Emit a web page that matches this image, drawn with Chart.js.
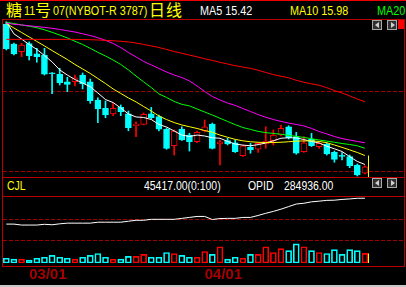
<!DOCTYPE html>
<html>
<head>
<meta charset="utf-8">
<script src="https://cdn.jsdelivr.net/npm/chart.js@4.4.1/dist/chart.umd.min.js"></script>
<style>
  html, body { margin: 0; padding: 0; background: #000; }
  body { position: relative; width: 406px; height: 287px; overflow: hidden; }
  .ln { position: absolute; background: #b80000; }
  .cj { position: absolute; font: 16px/16px "Noto Sans CJK SC", sans-serif; color: #ffff00; white-space: nowrap; }
  .la { position: absolute; font: 12.5px/14px "Liberation Sans", Arial, sans-serif; white-space: nowrap;
        transform: scaleX(0.865); transform-origin: 0 0; }
  .sm { position: absolute; font: 12px/14px "Liberation Sans", Arial, sans-serif; white-space: nowrap; color: #fff;
        transform: scaleX(0.87); transform-origin: 0 0; }
  .btn { position: absolute; width: 8px; height: 8px; border: 1px solid #a8a8a8; background: #303030; }
  .btn.l::after, .btn.r::after { content: ""; position: absolute; top: 1px; border: 3px solid transparent; }
  .btn.l::after { left: -1px; border-right: 4px solid #d0d0d0; }
  .btn.r::after { left: 3px; border-left: 4px solid #d0d0d0; }
  canvas { position: absolute; }
</style>
</head>
<body>
<!-- frame -->
<div class="ln" style="left:0;top:0;width:406px;height:1px;background:#f00000"></div>
<div class="ln" style="left:2px;top:19px;width:403px;height:1px"></div>
<div class="ln" style="left:2px;top:177px;width:403px;height:1px"></div>
<div class="ln" style="left:2px;top:196px;width:403px;height:1px"></div>
<div class="ln" style="left:2px;top:266px;width:403px;height:1px"></div>
<div class="ln" style="left:2px;top:19px;width:1px;height:248px"></div>
<div class="ln" style="left:404px;top:19px;width:1px;height:248px"></div>
<div class="ln" style="left:0;top:285px;width:406px;height:2px;background:#c8c8c8"></div>

<!-- title row -->
<div id="title">
  <div class="cj" style="left:6px;top:1px">糖</div>
  <div class="la" style="left:24px;top:4px;color:#ffff00">11</div>
  <div class="cj" style="left:35px;top:1px">号</div>
  <div class="la" style="left:53px;top:4px;color:#ffff00">07(NYBOT-R 3787)</div>
  <div class="cj" style="left:149px;top:1px">日</div>
  <div class="cj" style="left:166px;top:1px">线</div>
</div>
<div class="la" style="left:200px;top:4px;color:#ffffff">MA5 15.42</div>
<div class="la" style="left:290px;top:4px;color:#ffff00">MA10 15.98</div>
<div class="la" style="left:377px;top:4px;color:#00ff00">MA20 16.43</div>
<div class="btn l" style="left:372px;top:20px"></div>
<div class="btn r" style="left:387px;top:20px"></div>
<div class="ln" style="left:398px;top:20px;width:6px;height:9px;background:#ff0000"></div>

<!-- indicator row -->
<div class="sm" style="left:7px;top:179px;color:#ffff00">CJL</div>
<div class="sm" style="left:144px;top:179px">45417.00(0:100)</div>
<div class="sm" style="left:248px;top:179px">OPID</div>
<div class="sm" style="left:284px;top:179px">284936.00</div>
<div class="btn l" style="left:372px;top:178px"></div>
<div class="btn r" style="left:387px;top:178px"></div>

<canvas id="main" width="401" height="157" style="left:3px;top:20px"></canvas>
<canvas id="ind" width="401" height="90" style="left:3px;top:197px"></canvas>

<script>
// daily candles
const candleOpen  = [24.20,22.95,22.47,22.97,22.33,22.26,21.12,21.06,20.59,20.59,21.01,20.59,19.45,18.93,18.58,18.99,18.58,17.84,17.93,18.58,18.41,17.62,16.59,17.64,17.26,16.84,17.51,17.95,16.70,16.91,16.78,15.97,16.49,16.37,16.70,16.91,17.26,17.78,17.16,16.22,16.99,16.53,16.70,16.18,15.97,15.91,15.39,14.87];
const candleHigh  = [24.33,23.01,22.99,23.08,22.68,22.68,21.17,21.43,20.87,21.01,21.14,20.76,19.58,19.39,19.24,19.14,18.76,18.09,18.64,18.99,18.51,17.70,17.58,17.78,17.37,17.51,18.20,18.01,16.95,17.06,16.95,16.64,16.74,16.79,17.78,17.58,17.89,17.84,17.43,17.16,17.37,16.79,16.76,16.26,16.16,16.01,15.45,15.33];
const candleLow   = [22.58,22.26,22.16,21.95,21.81,21.01,19.84,20.39,19.97,20.33,20.14,19.24,18.03,18.34,18.47,18.47,17.53,17.16,17.89,18.26,17.51,16.37,16.01,16.92,16.26,16.79,17.45,16.39,15.39,16.64,16.17,15.92,16.12,16.18,16.43,16.64,17.20,17.01,16.06,16.17,16.54,16.43,16.01,15.56,15.70,15.22,14.70,14.83];
const candleClose = [22.64,22.33,22.89,22.20,22.16,21.06,21.09,20.53,20.43,20.84,20.45,19.41,18.89,18.51,18.93,18.72,17.72,17.95,18.56,18.34,17.62,16.43,17.51,16.95,16.84,17.43,17.78,16.43,16.84,16.70,16.22,16.58,16.33,16.74,16.89,17.26,17.68,17.09,16.12,16.78,16.59,16.74,16.08,15.74,15.93,15.34,14.76,15.28];

// moving average lines
const ma5  = [24.34,23.58,23.26,22.92,22.61,22.23,21.83,21.33,21.01,20.73,20.51,20.28,19.89,19.48,19.29,18.95,18.58,18.39,18.36,18.23,17.92,17.76,17.51,17.26,17.17,17.26,17.20,17.09,17.06,16.86,16.70,16.63,16.59,16.66,16.76,16.90,17.06,17.09,17.08,16.98,16.86,16.76,16.56,16.40,16.23,15.91,15.61,15.42];
const ma10 = [24.23,23.95,23.67,23.39,23.11,22.83,22.54,22.26,21.98,21.67,21.39,21.11,20.79,20.48,20.14,19.86,19.58,19.33,19.04,18.76,18.45,18.23,18.04,17.89,17.78,17.67,17.54,17.43,17.26,17.12,16.99,16.90,16.84,16.81,16.79,16.79,16.81,16.84,16.88,16.89,16.90,16.86,16.78,16.64,16.49,16.33,16.17,15.98];
const ma20 = [24.31,24.23,24.14,24.06,23.97,23.84,23.68,23.51,23.33,23.12,22.92,22.68,22.43,22.20,21.95,21.67,21.33,20.95,20.58,20.23,19.83,19.61,19.36,19.18,19.08,18.89,18.70,18.51,18.31,18.11,17.91,17.73,17.61,17.49,17.41,17.36,17.31,17.24,17.18,17.11,17.03,16.95,16.88,16.81,16.73,16.67,16.59,16.43];
const ma30 = [24.26,24.18,24.14,24.09,24.04,23.99,23.93,23.86,23.78,23.70,23.59,23.48,23.34,23.18,22.98,22.73,22.42,22.14,21.86,21.64,21.42,21.20,21.01,20.86,20.64,20.33,19.98,19.67,19.45,19.26,19.11,18.92,18.73,18.54,18.37,18.23,18.11,18.01,17.92,17.83,17.67,17.48,17.33,17.17,17.04,16.95,16.86,16.78];
const ma60 = [23.24,23.24,23.24,23.24,23.24,23.24,23.24,23.24,23.24,23.24,23.23,23.22,23.20,23.18,23.15,23.12,23.08,23.01,22.92,22.83,22.73,22.61,22.48,22.37,22.26,22.15,22.03,21.92,21.81,21.70,21.59,21.51,21.43,21.31,21.17,21.04,20.93,20.84,20.68,20.56,20.46,20.37,20.22,20.04,19.89,19.71,19.51,19.34];

// CJL (volume) and OPID (open interest)
const volume = [22700,18200,18200,13600,22700,27300,36300,27300,22700,18200,27300,36300,45400,27300,18200,18200,31800,31800,40900,27300,27300,50000,45400,36300,27300,27300,54500,40900,77200,18200,27300,22700,40900,40900,77200,50000,68100,59000,90800,77200,59000,50000,45400,63600,40900,63600,59000,45417];
const openInterest = [257900,257900,256900,256900,256900,257700,257200,258200,258900,258900,258900,258900,259900,259900,259900,259900,260900,261900,261900,262900,262900,262900,262900,263900,264900,265900,265900,262700,263700,263900,263900,264900,264900,266900,269200,271200,273500,276200,278900,279700,281200,281900,282700,282900,283700,284200,284900,284936];

// axis ticks
const dateTickIndex = [3, 26];
const dateTickLabels = ['03/01', '04/01'];
const priceGridTicks = [15, 20];
const volumeGridTicks = [104667, 209333];

const idx = candleClose.map((c, i) => i);
const isUp = candleClose.map((c, i) => c > candleOpen[i]);
const candleColor = isUp.map(u => u ? '#ff0000' : '#00ffff');

const xRange = { min: -0.4325, max: 52.12 };

// yellow cursor at the last bar
const cursorLine = {
  id: 'cursorLine',
  afterDatasetsDraw(chart, args, opts) {
    const { ctx, chartArea, scales } = chart;
    const x = Math.round(scales.x.getPixelForValue(idx.length - 1) + 3) + 0.5;
    const y = scales.y.getPixelForValue(opts.from);
    ctx.save();
    ctx.strokeStyle = '#ffff00';
    ctx.lineWidth = 1;
    ctx.beginPath();
    ctx.moveTo(x, y);
    ctx.lineTo(x, chartArea.bottom);
    ctx.stroke();
    ctx.restore();
  }
};

function maLine(values, color) {
  return {
    type: 'line',
    data: idx.map(i => ({ x: i, y: values[i] })),
    borderColor: color,
    borderWidth: 1,
    pointRadius: 0,
    tension: 0,
    order: 0
  };
}

new Chart(document.getElementById('main'), {
  type: 'bar',
  data: {
    datasets: [
      maLine(ma60, '#ff0000'),
      maLine(ma30, '#ff00ff'),
      maLine(ma20, '#00ff00'),
      maLine(ma10, '#ffff00'),
      maLine(ma5, '#ffffff'),
      {
        data: idx.map(i => ({ x: i, y: [candleOpen[i], candleClose[i]] })),
        backgroundColor: isUp.map(u => u ? '#000000' : '#00ffff'),
        borderColor: candleColor,
        borderWidth: 1,
        borderSkipped: false,
        barThickness: 6,
        minBarLength: 1,
        grouped: false,
        order: 1
      },
      {
        data: idx.map(i => ({ x: i, y: [candleLow[i], candleHigh[i]] })),
        backgroundColor: candleColor,
        borderWidth: 0,
        barThickness: 1,
        grouped: false,
        order: 2
      }
    ]
  },
  options: {
    responsive: false,
    animation: false,
    devicePixelRatio: 1,
    events: [],
    layout: { padding: 0 },
    plugins: { legend: { display: false }, tooltip: { enabled: false }, cursorLine: { from: ma10[ma10.length - 1] } },
    scales: {
      x: { type: 'linear', min: xRange.min, max: xRange.max, offset: false, display: false, grid: { offset: false } },
      y: {
        min: 14.6375, max: 24.45,
        ticks: { display: false },
        grid: { color: '#a00000', drawTicks: false, lineWidth: 1 },
        border: { display: false, dash: [4, 2] },
        afterBuildTicks: s => { s.ticks = priceGridTicks.map(v => ({ value: v })); }
      }
    }
  },
  plugins: [cursorLine]
});

new Chart(document.getElementById('ind'), {
  type: 'bar',
  data: {
    datasets: [
      {
        type: 'line',
        data: idx.map(i => ({ x: i, y: openInterest[i] })),
        yAxisID: 'y2',
        borderColor: '#ffffff',
        borderWidth: 1,
        pointRadius: 0,
        tension: 0,
        order: 0
      },
      {
        data: idx.map(i => ({ x: i, y: volume[i] })),
        backgroundColor: 'rgba(0,0,0,0)',
        borderColor: candleColor,
        borderWidth: 1,
        borderSkipped: false,
        barThickness: 6,
        order: 1
      }
    ]
  },
  options: {
    responsive: false,
    animation: false,
    devicePixelRatio: 1,
    events: [],
    layout: { padding: 0 },
    plugins: { legend: { display: false }, tooltip: { enabled: false }, cursorLine: { from: volume[volume.length - 1] } },
    scales: {
      x: {
        type: 'linear', min: xRange.min, max: xRange.max, offset: false,
        grid: { display: false, drawTicks: false, offset: false },
        border: { display: false },
        afterBuildTicks: s => { s.ticks = dateTickIndex.map(v => ({ value: v })); },
        ticks: {
          autoSkip: false, maxRotation: 0, align: 'start', padding: 3,
          color: '#a80000',
          font: { family: '"Liberation Sans Narrow", "Liberation Sans", Arial, sans-serif', size: 15, weight: 'bold' },
          callback: (v, i) => dateTickLabels[i]
        }
      },
      y: {
        min: 0, max: 314000,
        ticks: { display: false },
        grid: { color: '#a00000', drawTicks: false },
        border: { display: false, dash: [4, 2] },
        afterBuildTicks: s => { s.ticks = volumeGridTicks.map(v => ({ value: v })); }
      },
      y2: { display: false, min: 217236, max: 286236 }
    }
  },
  plugins: [cursorLine]
});
</script>
</body>
</html>
